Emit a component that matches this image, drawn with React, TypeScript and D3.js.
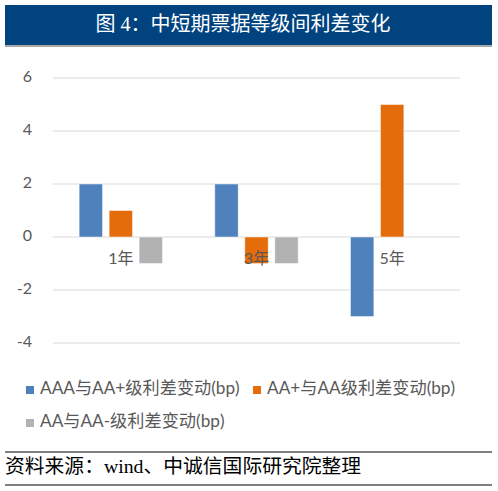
import { useEffect, useRef } from 'react';
import * as d3 from 'd3';

const categories = ['1年', '3年', '5年'];
const seriesNames = ['AAA与AA+级利差变动(bp)', 'AA+与AA级利差变动(bp)', 'AA与AA-级利差变动(bp)'];
const seriesColors = ['#4F81BD', '#E46C0A', '#B2B2B2'];
const aaaVsAaPlus = [2, 2, -3];
const aaPlusVsAa = [1, -1, 5];
const aaVsAaMinus = [-1, -1, 0];
const yTicks = [-4, -2, 0, 2, 4, 6];

const W = 498;
const H = 491;
const sansCjk = 'Lato, "Noto Sans CJK SC", sans-serif';
const serifCjk = '"Liberation Serif", "Noto Sans CJK SC", serif';

export default function App() {
  const svgRef = useRef<SVGSVGElement>(null);

  useEffect(() => {
    if (!svgRef.current) return;
    const svg = d3.select(svgRef.current);
    svg.selectAll('*').remove();

    // title banner
    svg.append('rect').attr('x', 5).attr('y', 5).attr('width', 487).attr('height', 40).attr('fill', '#00437F');
    svg.append('line').attr('x1', 5).attr('x2', 492).attr('y1', 46).attr('y2', 46)
      .attr('stroke', '#8C8C8C').attr('stroke-width', 1.5);
    svg.append('text')
      .attr('x', 243).attr('y', 26).attr('text-anchor', 'middle').attr('dominant-baseline', 'middle')
      .attr('font-family', serifCjk).attr('font-size', 20).attr('fill', '#fff')
      .text('图 4：中短期票据等级间利差变化');

    const left = 53, right = 460;
    const x0 = d3.scaleBand<string>().domain(categories).range([left, right]);
    const x1 = d3.scaleBand<number>().domain([0, 1, 2]).range([-45, 45]).paddingInner(0.22).paddingOuter(0.11);
    const y = d3.scaleLinear().domain([-4, 6]).range([343, 78]);

    // grid
    yTicks.forEach(t => {
      svg.append('line').attr('x1', left).attr('x2', right).attr('y1', y(t)).attr('y2', y(t))
        .attr('stroke', '#D9D9D9').attr('stroke-width', 1);
      svg.append('text')
        .attr('x', 32).attr('y', y(t)).attr('text-anchor', 'end').attr('dominant-baseline', 'middle')
        .attr('font-family', sansCjk).attr('font-size', 16).attr('fill', '#595959')
        .text(t);
    });

    // bars
    const series = [aaaVsAaPlus, aaPlusVsAa, aaVsAaMinus];
    series.forEach((vals, si) => {
      vals.forEach((v, ci) => {
        if (v === 0) return;
        const cx = x0(categories[ci])! + x0.bandwidth() / 2;
        svg.append('rect')
          .attr('x', cx + x1(si)!).attr('width', x1.bandwidth())
          .attr('y', Math.min(y(v), y(0))).attr('height', Math.abs(y(v) - y(0)))
          .attr('fill', seriesColors[si]).attr('stroke', '#fff').attr('stroke-opacity', 0.6).attr('stroke-width', 0.8);
      });
    });

    // category labels drawn over the bars
    categories.forEach(c => {
      svg.append('text')
        .attr('x', x0(c)! + x0.bandwidth() / 2).attr('y', y(0) + 23).attr('text-anchor', 'middle')
        .attr('dominant-baseline', 'middle')
        .attr('font-family', sansCjk).attr('font-size', 16).attr('fill', '#595959')
        .text(c);
    });

    // legend
    const legendItems = [
      { x: 26, y: 390 },
      { x: 253, y: 390 },
      { x: 26, y: 423 },
    ];
    legendItems.forEach((p, i) => {
      svg.append('rect').attr('x', p.x).attr('y', p.y - 4).attr('width', 8).attr('height', 8).attr('fill', seriesColors[i]);
      svg.append('text')
        .attr('x', p.x + 14).attr('y', p.y).attr('dominant-baseline', 'middle')
        .attr('font-family', sansCjk).attr('font-size', 17.2).attr('fill', '#595959')
        .text(seriesNames[i]);
    });

    // source
    svg.append('line').attr('x1', 5).attr('x2', 492).attr('y1', 452).attr('y2', 452)
      .attr('stroke', '#000').attr('stroke-width', 1);
    svg.append('text')
      .attr('x', 5).attr('y', 468).attr('dominant-baseline', 'middle')
      .attr('font-family', serifCjk).attr('font-size', 19.8).attr('fill', '#000')
      .text('资料来源：wind、中诚信国际研究院整理');
    svg.append('line').attr('x1', 5).attr('x2', 492).attr('y1', 485).attr('y2', 485)
      .attr('stroke', '#7F7F7F').attr('stroke-width', 2);
  }, []);

  return (
    <svg ref={svgRef} width={W} height={H} style={{ position: 'absolute', left: 0, top: 0, background: '#fff' }} />
  );
}
